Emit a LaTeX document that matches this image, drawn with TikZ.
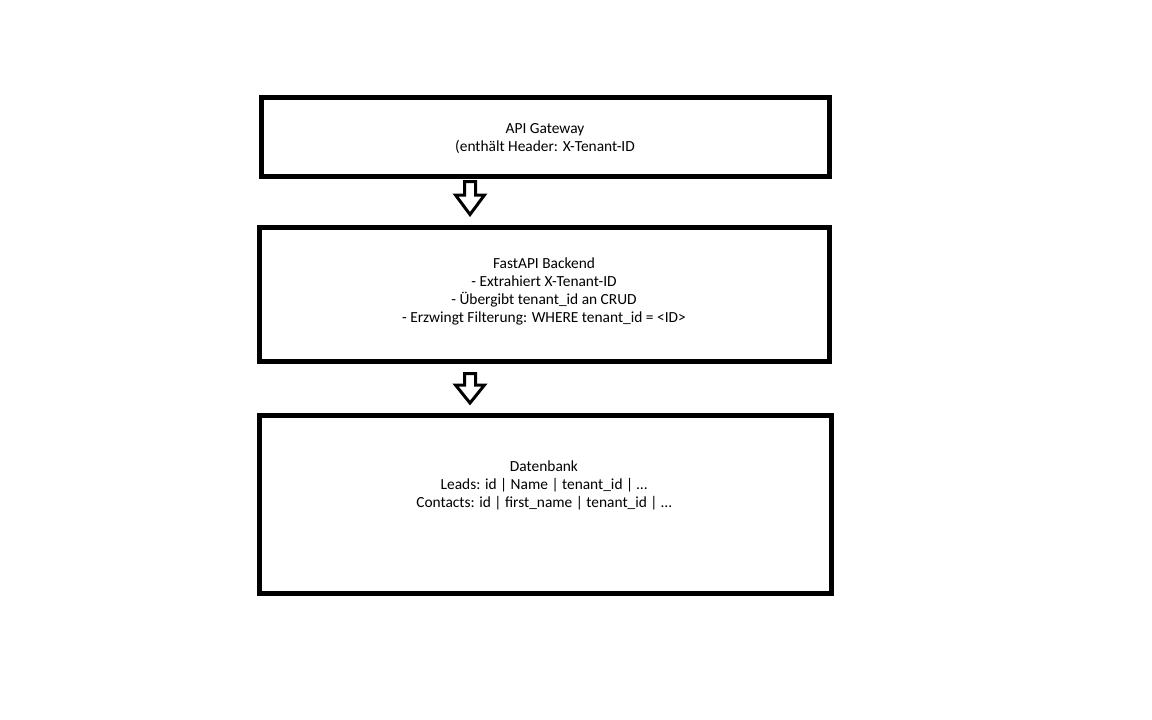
\documentclass[tikz,border=0pt]{standalone}
\usepackage{fontspec}
\setmainfont{Carlito}

\tikzstyle{layer} = [rectangle,line width=5pt,draw=black,fill=white,inner sep=0pt]
\tikzstyle{info} = [align=center,text=black,inner sep=0pt,font=\fontsize{15.4}{18}\selectfont]
\tikzstyle{flow} = [line width=3pt,draw=black,fill=white,line join=miter]

% block arrow: x, top, head base, tip
\newcommand{\flowarrow}[4]{
	\draw[flow] (#1-5.5,#2) -- (#1+5.5,#2) -- (#1+5.5,#3) -- (#1+14.5,#3)
		-- (#1,#4) -- (#1-14.5,#3) -- (#1-5.5,#3) -- cycle;
}

\begin{document}
\begin{tikzpicture}[x=1pt,y=-1pt]

	\useasboundingbox (0,0) rectangle (1152,720);

	% boxes
	\node (gateway) [layer,minimum width=568pt,minimum height=79pt] at (545.5,137) {};
	\node (backend) [layer,minimum width=570pt,minimum height=134pt] at (544.5,294.5) {};
	\node (db) [layer,minimum width=572pt,minimum height=178pt] at (545.5,504.5) {};

	% texts
	\node (gateway_t) [info] at (545,139) {API Gateway\\(enthält Header: X-Tenant-ID};
	\node (backend_t) [info] at (544,291) {FastAPI Backend\\- Extrahiert X-Tenant-ID\\- Übergibt tenant\_id an CRUD\\- Erzwingt Filterung: WHERE tenant\_id = <ID>};
	\node (db_t) [info] at (544,485) {Datenbank\\Leads: id | Name | tenant\_id | \dots\\Contacts: id | first\_name | tenant\_id | \dots};

	% arrows
	\flowarrow{470}{181.5}{195}{214.5}
	\flowarrow{470}{373.5}{385}{403}

\end{tikzpicture}
\end{document}
